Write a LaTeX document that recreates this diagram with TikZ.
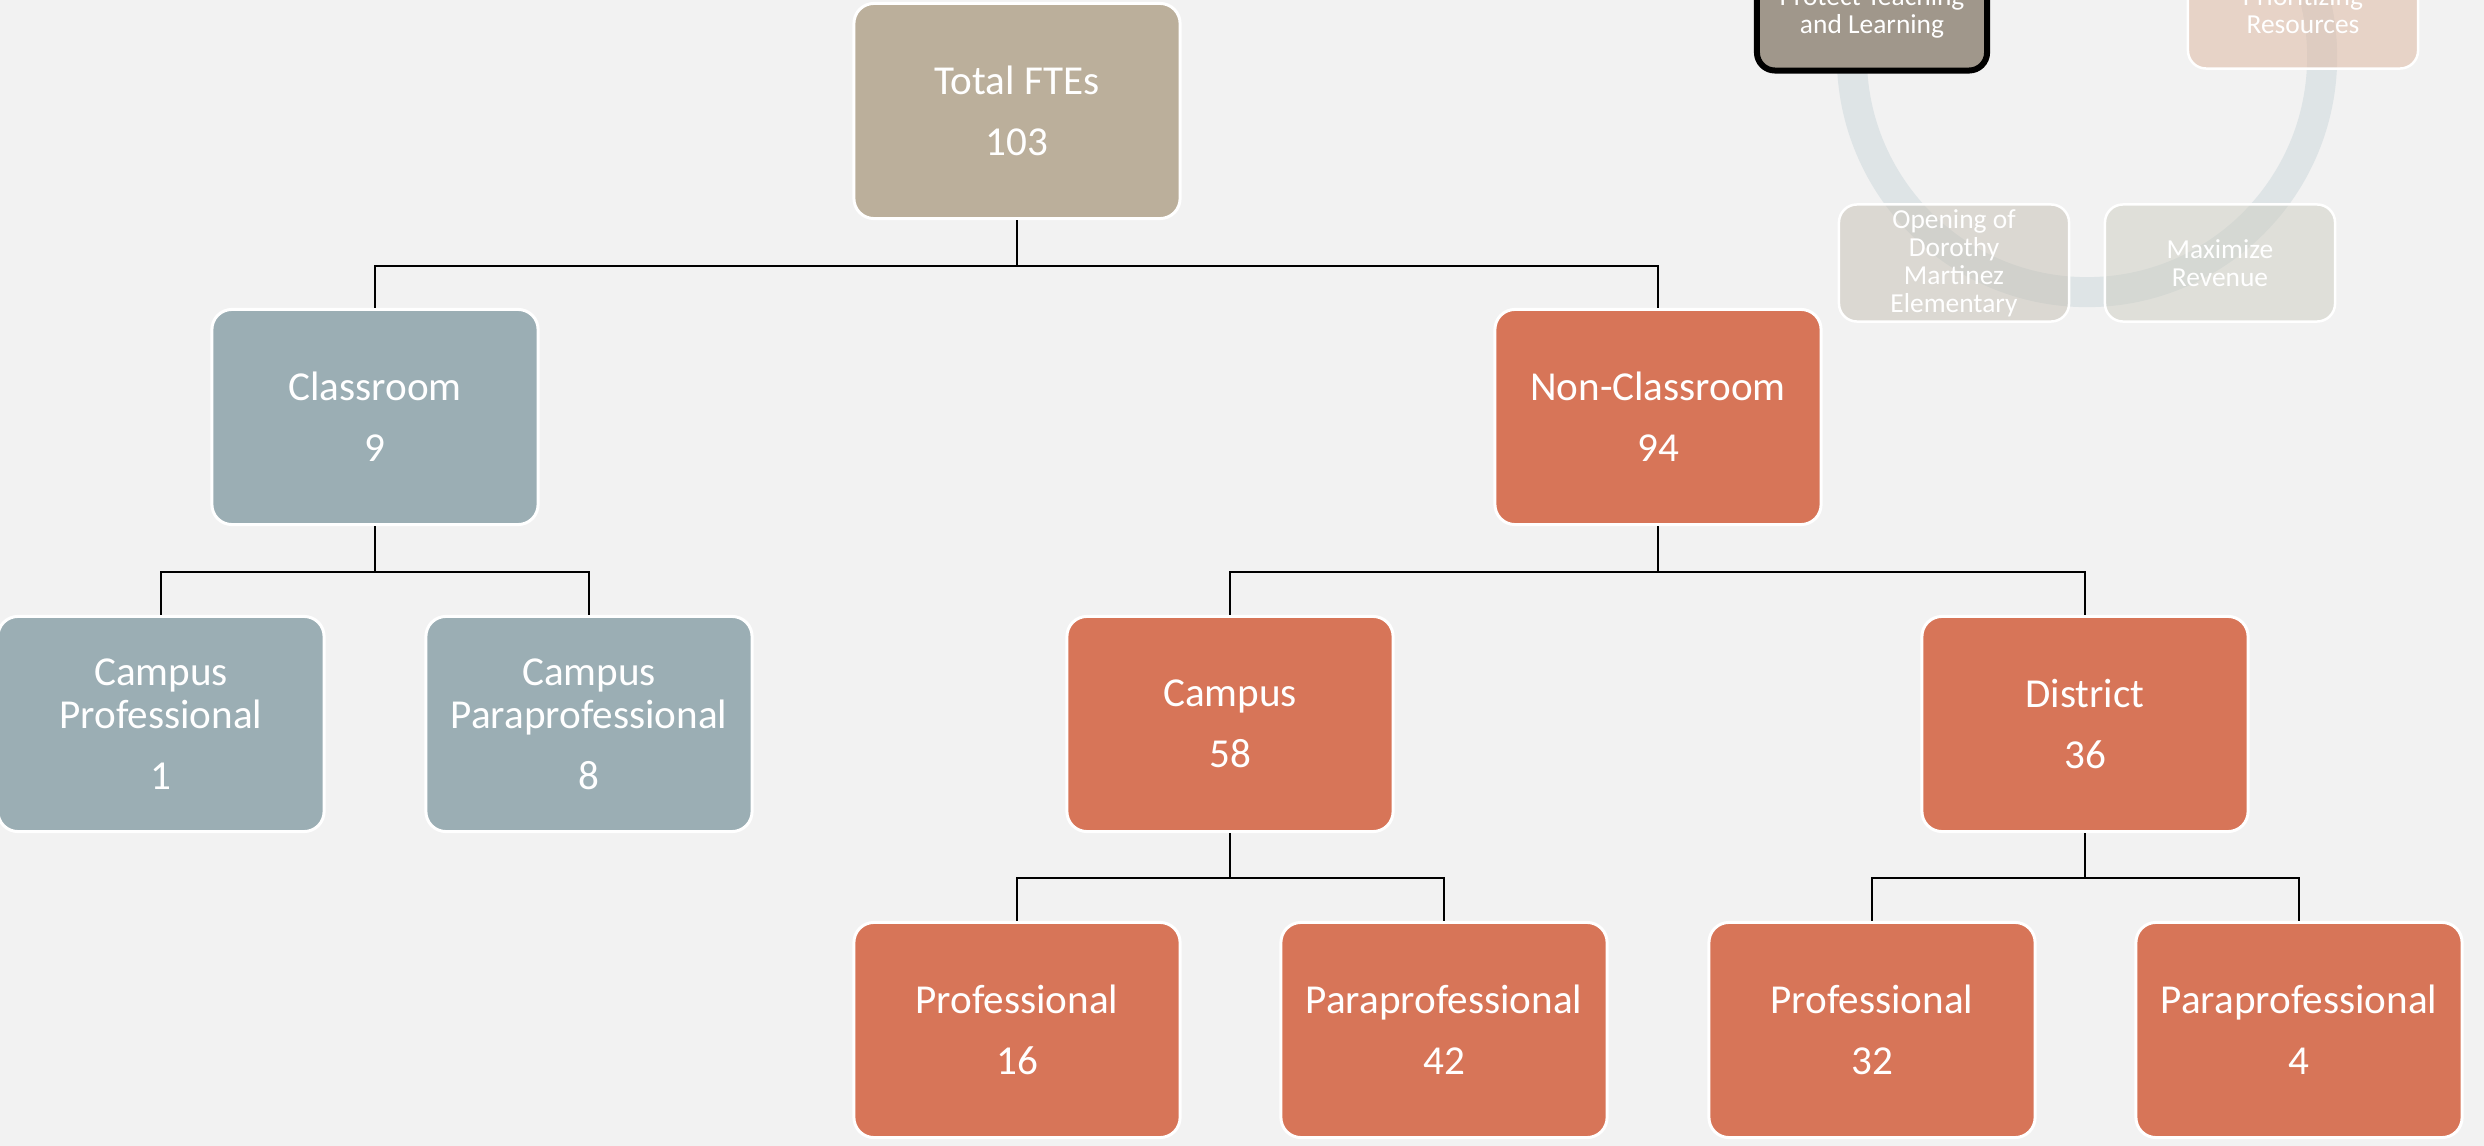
\documentclass[tikz,border=0pt]{standalone}
\usepackage{fontspec}
\setmainfont{Carlito}
\definecolor{bgc}{HTML}{F2F2F2}
\definecolor{tanc}{HTML}{BBAF9B}
\definecolor{bluec}{HTML}{9BAEB4}
\definecolor{orgc}{HTML}{D77558}
\definecolor{ringc}{HTML}{DEE4E6}
\definecolor{protc}{HTML}{A0978B}
\definecolor{openc}{RGB}{198,192,180}
\definecolor{maxc}{RGB}{206,206,194}
\definecolor{prioc}{RGB}{222,182,158}
\begin{document}
\begin{tikzpicture}[x=0.01cm,y=-0.01cm,
  box/.style={draw=white, line width=0.03cm, rounded corners=0.2cm,
    minimum width=3.26cm, minimum height=2.15cm, text=white, align=center,
    font=\fontsize{11.7pt}{12.3pt}\selectfont, inner sep=0pt},
  conn/.style={line width=0.02cm, draw=black},
  fadebox/.style={draw=white, line width=0.025cm, rounded corners=0.18cm,
    minimum width=2.3cm, minimum height=1.17cm, text=white, align=center,
    font=\fontsize{7.8pt}{8pt}\selectfont, inner sep=0pt,
    fill opacity=0.5, text opacity=1, draw opacity=1}]
\useasboundingbox (0,0) rectangle (2484,1146);
\clip (0,0) rectangle (2484,1146);
\fill[bgc] (0,0) rectangle (2484,1146);

% faded cycle diagram (top right)
\draw[ringc, line width=0.3cm] (2087,57) circle[radius=2.35cm];
\node[fadebox, fill=prioc] (prio) at (2303,10) {Prioritizing\\Resources};
\node[fadebox, fill=openc] (open) at (1954,263) {Opening of\\Dorothy\\Martinez\\Elementary};
\node[fadebox, fill=maxc] (maxr) at (2220,263) {Maximize\\Revenue};
\node[fadebox, fill=protc, fill opacity=1, draw=black, line width=0.06cm] (prot) at (1872,12) {Protect Teaching\\and Learning};

% org chart
\node[box, fill=tanc] (total) at (1017,111) {Total FTEs\\[5pt]103};
\node[box, fill=bluec] (class) at (375,417) {Classroom\\[5pt]9};
\node[box, fill=orgc] (nonclass) at (1658,417) {Non-Classroom\\[5pt]94};
\node[box, fill=bluec] (cprof) at (161,724) {Campus\\Professional\\[5pt]1};
\node[box, fill=bluec] (cpara) at (589,724) {Campus\\Paraprofessional\\[5pt]8};
\node[box, fill=orgc] (campus) at (1230,724) {Campus\\[5pt]58};
\node[box, fill=orgc] (district) at (2085,724) {District\\[5pt]36};
\node[box, fill=orgc] (prof1) at (1017,1030) {Professional\\[5pt]16};
\node[box, fill=orgc] (para1) at (1444,1030) {Paraprofessional\\[5pt]42};
\node[box, fill=orgc] (prof2) at (1872,1030) {Professional\\[5pt]32};
\node[box, fill=orgc] (para2) at (2299,1030) {Paraprofessional\\[5pt]4};

\draw[conn] (total.south) -- ++(0,46) -| (class.north);
\draw[conn] (total.south) -- ++(0,46) -| (nonclass.north);
\draw[conn] (class.south) -- ++(0,46) -| (cprof.north);
\draw[conn] (class.south) -- ++(0,46) -| (cpara.north);
\draw[conn] (nonclass.south) -- ++(0,46) -| (campus.north);
\draw[conn] (nonclass.south) -- ++(0,46) -| (district.north);
\draw[conn] (campus.south) -- ++(0,45) -| (prof1.north);
\draw[conn] (campus.south) -- ++(0,45) -| (para1.north);
\draw[conn] (district.south) -- ++(0,45) -| (prof2.north);
\draw[conn] (district.south) -- ++(0,45) -| (para2.north);
\end{tikzpicture}
\end{document}
